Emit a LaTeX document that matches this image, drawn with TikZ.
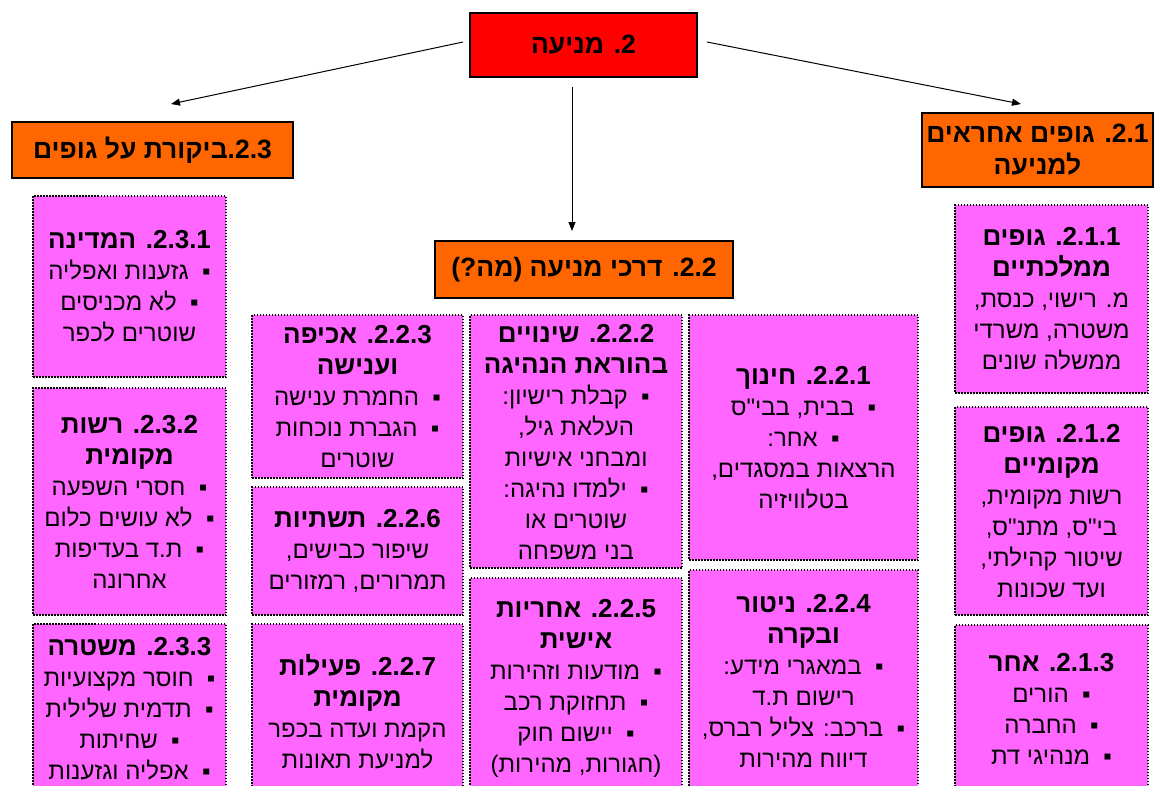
\documentclass[tikz,border=0pt]{standalone}
\usepackage{fontspec}
\setmainfont[Script=Hebrew]{Liberation Sans}
\newfontfamily\hebfont[Script=Hebrew]{Liberation Sans}
\TeXXeTstate=1
\usetikzlibrary{arrows.meta}
\definecolor{pinkbox}{RGB}{255,102,255}
\definecolor{orangebox}{RGB}{255,102,0}
\definecolor{redbox}{RGB}{255,0,0}
\newcommand\hr[1]{\beginR #1\endR}
\newcommand\ltr[1]{\beginL #1\endL}
\newcommand\bul{▪\ \ }
\newcommand\ttl[1]{{\fontsize{26}{31}\selectfont\bfseries #1}}
\begin{document}
\begin{tikzpicture}[x=1pt,y=-1pt,
  pbox/.style={draw=black, fill=pinkbox, line width=1.5pt, dash pattern=on 1.5pt off 1.5pt,
    align=center, inner sep=0pt, font=\hebfont\fontsize{24}{31}\selectfont},
  hdr/.style={draw=black, line width=2.5pt, align=center, inner sep=0pt,
    font=\hebfont\fontsize{26.5}{32}\selectfont\bfseries},
  arr/.style={draw=black, line width=1pt, -{Triangle[length=9pt,width=7pt]}}]
\useasboundingbox (0,0) rectangle (1158,785);
\fill[white] (0,0) rectangle (1158,785);

% headers
\node[hdr, fill=redbox, minimum width=227pt, minimum height=64pt] (top) at (583.5,45) {\hr{\ltr{2}. מניעה}};
\node[hdr, fill=orangebox, minimum width=281pt, minimum height=56pt] (h3) at (152.5,150) {\hr{\ltr{2.3}.ביקורת על גופים}};
\node[hdr, fill=orangebox, minimum width=298pt, minimum height=57pt] (h2) at (584,269.5) {\hr{\ltr{2.2}. דרכי מניעה (מה?)}};
\node[hdr, fill=orangebox, minimum width=231pt, minimum height=74pt] (h1) at (1037.5,150) {\hr{\ltr{2.1}. גופים אחראים}\\\hr{למניעה}};

% arrows
\coordinate (aL1) at (463,42);  \coordinate (aL2) at (171,104);
\coordinate (aR1) at (707,42);  \coordinate (aR2) at (1021,104);
\coordinate (aM1) at (572,87);  \coordinate (aM2) at (572,231);
\draw[arr] (aL1) -- (aL2);
\draw[arr] (aR1) -- (aR2);
\draw[arr] (aM1) -- (aM2);

% column 1 : 2.3.x
\node[pbox, minimum width=193pt, minimum height=181pt] (b231) at (129.5,286.5)
 {\ttl{\hr{\ltr{2.3.1}. המדינה}}\\\hr{\bul גזענות ואפליה}\\\hr{\bul לא מכניסים}\\\hr{שוטרים לכפר}};
\node[pbox, minimum width=193pt, minimum height=227pt] (b232) at (129.5,501.5)
 {\ttl{\hr{\ltr{2.3.2}. רשות}}\\\ttl{\hr{מקומית}}\\\hr{\bul חסרי השפעה}\\\hr{\bul לא עושים כלום}\\\hr{\bul ת.ד בעדיפות}\\\hr{אחרונה}};
\node[pbox, minimum width=193pt, minimum height=169pt] (b233) at (129.5,708.5)
 {\ttl{\hr{\ltr{2.3.3}. משטרה}}\\\hr{\bul חוסר מקצועיות}\\\hr{\bul תדמית שלילית}\\\hr{\bul שחיתות}\\\hr{\bul אפליה וגזענות}};

% column 2
\node[pbox, minimum width=211pt, minimum height=163pt] (b223) at (357.5,396.5)
 {\ttl{\hr{\ltr{2.2.3}. אכיפה}}\\\ttl{\hr{וענישה}}\\\hr{\bul החמרת ענישה}\\\hr{\bul הגברת נוכחות}\\\hr{שוטרים}};
\node[pbox, minimum width=211pt, minimum height=128pt] (b226) at (357.5,551)
 {\ttl{\hr{\ltr{2.2.6}. תשתיות}}\\\hr{שיפור כבישים,}\\\hr{תמרורים, רמזורים}};
\node[pbox, minimum width=211pt, minimum height=176pt] (b227) at (357.5,712)
 {\ttl{\hr{\ltr{2.2.7}. פעילות}}\\\ttl{\hr{מקומית}}\\\hr{הקמת ועדה בכפר}\\\hr{למניעת תאונות}};

% column 3
\node[pbox, minimum width=212pt, minimum height=253pt] (b222) at (576,441.5)
 {\ttl{\hr{\ltr{2.2.2}. שינויים}}\\\ttl{\hr{בהוראת הנהיגה}}\\\hr{\bul קבלת רישיון:}\\\hr{העלאת גיל,}\\\hr{ומבחני אישיות}\\\hr{\bul ילמדו נהיגה:}\\\hr{שוטרים או}\\\hr{בני משפחה}};
\node[pbox, minimum width=212pt, minimum height=220pt] (b225) at (576,688)
 {\ttl{\hr{\ltr{2.2.5}. אחריות}}\\\ttl{\hr{אישית}}\\\hr{\bul מודעות וזהירות}\\\hr{\bul תחזוקת רכב}\\\hr{\bul יישום חוק}\\\hr{(חגורות, מהירות)}};

% column 4
\node[pbox, minimum width=229pt, minimum height=245pt] (b221) at (803.5,437.5)
 {\ttl{\hr{\ltr{2.2.1}. חינוך}}\\\hr{\bul בבית, בבי"ס}\\\hr{\bul אחר:}\\\hr{הרצאות במסגדים,}\\\hr{בטלוויזיה}};
\node[pbox, minimum width=229pt, minimum height=222pt] (b224) at (803.5,681)
 {\ttl{\hr{\ltr{2.2.4}. ניטור}}\\\ttl{\hr{ובקרה}}\\\hr{\bul במאגרי מידע:}\\\hr{רישום ת.ד}\\\hr{\bul ברכב: צליל רברס,}\\\hr{דיווח מהירות}};

% column 5 : 2.1.x
\node[pbox, minimum width=193pt, minimum height=188pt] (b211) at (1051.5,299)
 {\ttl{\hr{\ltr{2.1.1}. גופים}}\\\ttl{\hr{ממלכתיים}}\\\hr{מ. רישוי, כנסת,}\\\hr{משטרה, משרדי}\\\hr{ממשלה שונים}};
\node[pbox, minimum width=193pt, minimum height=208pt] (b212) at (1051.5,511)
 {\ttl{\hr{\ltr{2.1.2}. גופים}}\\\ttl{\hr{מקומיים}}\\\hr{רשות מקומית,}\\\hr{בי"ס, מתנ"ס,}\\\hr{שיטור קהילתי,}\\\hr{ועד שכונות}};
\node[pbox, minimum width=193pt, minimum height=168pt] (b213) at (1051.5,709)
 {\ttl{\hr{\ltr{2.1.3}. אחר}}\\\hr{\bul הורים}\\\hr{\bul החברה}\\\hr{\bul מנהיגי דת}};
\end{tikzpicture}
\end{document}
